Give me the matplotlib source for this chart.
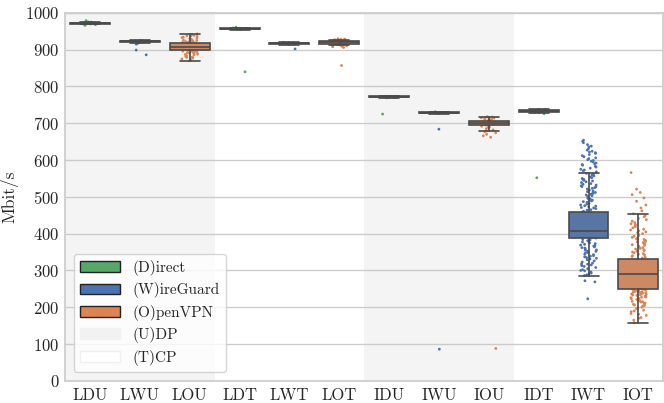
import numpy as np
import pandas as pd
import matplotlib
matplotlib.use("Agg")
import matplotlib.pyplot as plt
from matplotlib.patches import Patch
import seaborn as sns

# categories: (L)ocal / (I)nternet, (D)irect / (W)ireGuard / (O)penVPN, (U)DP / (T)CP
categories = ["LDU", "LWU", "LOU", "LDT", "LWT", "LOT",
              "IDU", "IWU", "IOU", "IDT", "IWT", "IOT"]
method = ["D", "W", "O", "D", "W", "O", "D", "W", "O", "D", "W", "O"]

# box stats (Mbit/s)
med = [972, 923, 908, 957, 917, 920, 772, 729, 701, 733, 407, 291]
q1 = [971, 922, 899, 956, 916, 916, 771, 728, 695, 731, 387, 249]
q3 = [973, 924, 918, 958, 918, 923, 773, 730, 707, 735, 458, 331]
whislo = [969, 919, 870, 954, 914, 912, 769, 726, 679, 727, 285, 158]
whishi = [975, 926, 943, 960, 920, 927, 775, 732, 718, 740, 564, 454]

# individual measurements (estimated from the strip points)
ldu = [972, 973, 971, 970, 974, 968, 975, 979, 966, 972, 973, 971, 969, 976]
lwu = [924, 923, 922, 921, 919, 917, 915, 923, 924, 899, 886]
lou = [870, 873, 877, 879, 882, 884, 887, 888, 891, 892, 894, 896, 897, 898,
       899, 900, 901, 902, 903, 904, 905, 906, 907, 908, 908, 909, 910, 911,
       912, 913, 914, 915, 916, 917, 918, 919, 920, 921, 923, 925, 927, 929,
       931, 933, 936, 937, 939, 941, 943, 904, 911, 896, 915, 880, 886, 893,
       922, 926, 930, 934, 938, 875, 890]
ldt = [957, 958, 956, 959, 961, 957, 955, 958, 840]
lwt = [917, 918, 916, 919, 920, 915, 917, 918, 902]
lot = [906, 908, 910, 911, 912, 913, 914, 915, 915, 916, 917, 917, 918, 918,
       919, 919, 920, 920, 921, 921, 922, 922, 923, 923, 924, 925, 925, 926,
       927, 928, 929, 930, 912, 909, 857]
idu = [772, 771, 770, 773, 769, 771, 772, 770, 725]
iwu = [729, 728, 730, 731, 727, 729, 728, 684, 86]
iou = [662, 666, 670, 674, 677, 679, 682, 685, 688, 690, 692, 694, 695, 696,
       697, 698, 699, 700, 701, 701, 702, 703, 704, 705, 706, 707, 708, 709,
       710, 711, 712, 713, 714, 715, 716, 717, 718, 699, 703, 88]
idt = [733, 735, 731, 737, 729, 738, 726, 734, 730, 736, 732, 734, 552]
iwt = [286, 291, 293, 299, 302, 305, 311, 313, 318, 320, 326, 329, 331, 337,
       340, 344, 347, 352, 355, 358, 361, 366, 369, 371, 375, 379, 381, 384,
       386, 388, 389, 390, 391, 392, 393, 394, 395, 396, 396, 397, 398, 399,
       399, 400, 401, 401, 402, 403, 403, 404, 404, 405, 405, 406, 406, 407,
       407, 398, 393, 400, 408, 409, 411, 412, 414, 416, 417, 419, 421, 422,
       424, 426, 428, 430, 431, 433, 435, 437, 439, 440, 442, 444, 446, 447,
       449, 451, 453, 455, 456, 458, 461, 464, 468, 471, 475, 478, 482, 485,
       489, 492, 496, 499, 503, 507, 510, 514, 518, 521, 525, 528, 532, 536,
       539, 543, 547, 550, 554, 557, 561, 564, 568, 573, 578, 583, 588, 592,
       597, 601, 606, 612, 618, 624, 631, 642, 654, 272, 269, 223, 315, 352,
       423, 437, 476, 512, 545, 590, 620, 362, 333, 410, 288, 296, 308, 323,
       335, 343, 349, 356, 364, 373, 377, 383, 465, 473, 480, 487, 494, 501,
       505, 516, 523, 530, 534, 541, 552, 559, 571, 581, 595, 604, 609, 615,
       627, 636, 647, 651, 300, 317, 339, 368, 470, 491, 509, 527, 548, 562,
       575, 586, 599, 622, 638]
iot = [158, 165, 172, 178, 183, 188, 192, 196, 200, 203, 206, 209, 212, 215,
       218, 221, 224, 226, 229, 231, 233, 235, 237, 239, 241, 243, 244, 246,
       247, 249, 250, 252, 254, 255, 257, 258, 260, 261, 263, 264, 266, 267,
       269, 270, 272, 273, 275, 276, 278, 279, 281, 282, 283, 284, 285, 286,
       287, 288, 289, 290, 292, 293, 294, 296, 297, 298, 300, 301, 302, 304,
       305, 306, 308, 309, 310, 312, 313, 314, 316, 317, 318, 320, 321, 322,
       324, 325, 326, 328, 329, 331, 334, 338, 342, 346, 350, 354, 358, 362,
       366, 370, 374, 378, 382, 386, 390, 395, 400, 405, 410, 416, 422, 430,
       438, 446, 454, 462, 470, 478, 488, 497, 506, 512, 521, 566, 205, 228,
       238, 256, 265, 274, 303, 311, 352, 372, 398, 427, 170, 181, 190, 198,
       208, 214, 219, 223, 227, 232, 236, 240, 245, 251, 259, 262, 268, 277,
       280, 295, 299, 307, 315, 319, 327, 336, 344, 348, 356, 364, 368, 376,
       380, 388, 393, 403, 412, 419, 434, 441, 449, 216, 234, 242, 253, 271,
       283, 296, 323, 340, 360, 384, 408, 425]

samples = [ldu, lwu, lou, ldt, lwt, lot, idu, iwu, iou, idt, iwt, iot]

sns.set_theme(style="whitegrid")
plt.rcParams["font.family"] = "serif"
plt.rcParams["font.serif"] = ["cmr10"]
plt.rcParams["mathtext.fontset"] = "cm"
plt.rcParams["axes.formatter.use_mathtext"] = True

deep = sns.color_palette("deep")
colors = {"D": deep[2], "W": deep[0], "O": deep[1]}

df = pd.DataFrame(
    [(c, v, m) for c, s, m in zip(categories, samples, method) for v in s],
    columns=["cat", "mbit", "method"])

fig, ax = plt.subplots(figsize=(6.64, 4.03), dpi=100)
fig.subplots_adjust(left=0.098, right=0.999, bottom=0.055, top=0.968)

# shade UDP groups
for start in (0, 6):
    ax.axvspan(start - 0.5, start + 2.5, color="#f4f4f4", zorder=0, lw=0)

sns.stripplot(data=df, x="cat", y="mbit", hue="method", order=categories,
              palette=colors, size=2, jitter=0.16, ax=ax, legend=False,
              zorder=2)

stats = []
for i in range(len(categories)):
    stats.append(dict(med=med[i], q1=q1[i], q3=q3[i],
                      whislo=whislo[i], whishi=whishi[i], fliers=[]))
line_c = "#4a4a4a"
bp = ax.bxp(stats, positions=np.arange(len(categories)), widths=0.8,
            showfliers=False, patch_artist=True, capwidths=0.4,
            boxprops=dict(edgecolor=line_c, linewidth=1.2),
            whiskerprops=dict(color=line_c, linewidth=1.2),
            capprops=dict(color=line_c, linewidth=1.2),
            medianprops=dict(color=line_c, linewidth=1.2))
for patch, m in zip(bp["boxes"], method):
    patch.set_facecolor(sns.desaturate(colors[m], 0.75))
for art in bp["boxes"] + bp["whiskers"] + bp["caps"] + bp["medians"]:
    art.set_zorder(3)

ax.set_xlim(-0.5, len(categories) - 0.5)
ax.set_ylim(0, 1000)
ax.set_yticks(np.arange(0, 1001, 100))
ax.set_xticks(np.arange(len(categories)))
ax.set_xticklabels(categories)
ax.set_xlabel("")
ax.set_ylabel("Mbit/s", fontsize=12.5, labelpad=5)
ax.tick_params(axis="x", labelsize=12, length=0, pad=5)
ax.tick_params(axis="y", labelsize=12, length=0, pad=4)
ax.grid(axis="x", visible=False)
ax.set_axisbelow(True)

handles = [
    Patch(facecolor=deep[2], edgecolor="#222222", label="(D)irect"),
    Patch(facecolor=deep[0], edgecolor="#222222", label="(W)ireGuard"),
    Patch(facecolor=deep[1], edgecolor="#222222", label="(O)penVPN"),
    Patch(facecolor="#f2f2f2", edgecolor="#f2f2f2", label="(U)DP"),
    Patch(facecolor="white", edgecolor="#f0f0f0", label="(T)CP"),
]
ax.legend(handles=handles, loc="lower left", fontsize=11,
          borderaxespad=0.6, handlelength=2.6, labelspacing=0.42)

fig.savefig("out.png", dpi=100)
